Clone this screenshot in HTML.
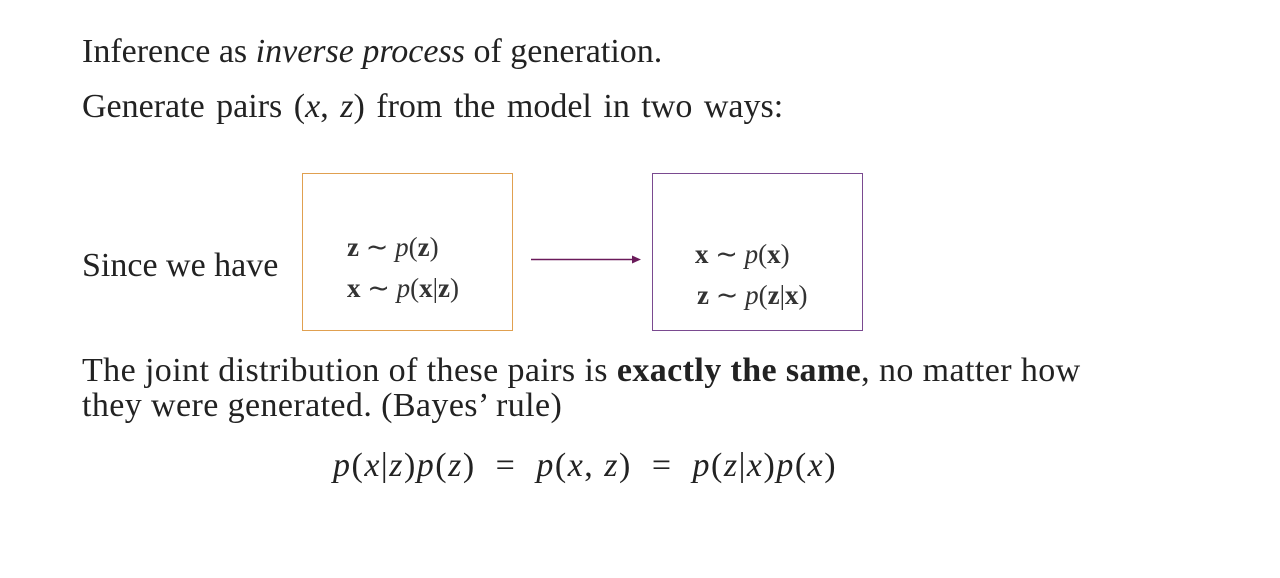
<!DOCTYPE html>
<html><head><style>
body{margin:0;width:1280px;height:578px;background:#fff;position:relative;overflow:hidden;font-family:"Liberation Serif",serif;color:#222}
.t{position:absolute;font-size:34px;white-space:nowrap;line-height:1}
.m{position:absolute;font-size:27px;white-space:nowrap;line-height:1;color:#333}
.box{position:absolute;box-sizing:border-box}
</style></head><body>
<div class="t" style="left:82px;top:35px">Inference as <i>inverse process</i> of generation.</div>
<div class="t" style="left:82px;top:90px;word-spacing:3px">Generate pairs (<i>x</i>, <i>z</i>) from the model in two&nbsp;ways:</div>
<div class="t" style="left:82px;top:249px">Since we have</div>
<div class="box" style="left:302px;top:173px;width:211px;height:158px;border:1.5px solid #e0a050"></div>
<div class="box" style="left:652px;top:173px;width:211px;height:158px;border:1.5px solid #7a4a90"></div>
<div class="m" style="left:347px;top:234px"><b>z</b> ∼ <i>p</i>(<b>z</b>)</div>
<div class="m" style="left:347px;top:275px"><b>x</b> ∼ <i>p</i>(<b>x</b>|<b>z</b>)</div>
<div class="m" style="left:695px;top:241px"><b>x</b> ∼ <i>p</i>(<b>x</b>)</div>
<div class="m" style="left:697px;top:282px"><b>z</b> ∼ <i>p</i>(<b>z</b>|<b>x</b>)</div>
<svg style="position:absolute;left:0;top:0" width="1280" height="578">
<line x1="531" y1="259.5" x2="634" y2="259.5" stroke="#6a1a5a" stroke-width="1.5"/>
<polygon points="641,259.5 632,255.5 632,263.5" fill="#6a1a5a"/>
</svg>
<div class="t" style="left:82px;top:354px;letter-spacing:0.4px">The joint distribution of these pairs is <b>exactly the same</b>, no matter how</div>
<div class="t" style="left:82px;top:389px;letter-spacing:0.4px">they were generated. (Bayes’ rule)</div>
<div class="t" style="left:333px;top:449px;letter-spacing:1.5px"><i>p</i>(<i>x</i>|<i>z</i>)<i>p</i>(<i>z</i>) &nbsp;= &nbsp;<i>p</i>(<i>x</i>, <i>z</i>) &nbsp;= &nbsp;<i>p</i>(<i>z</i>|<i>x</i>)<i>p</i>(<i>x</i>)</div>
</body></html>
